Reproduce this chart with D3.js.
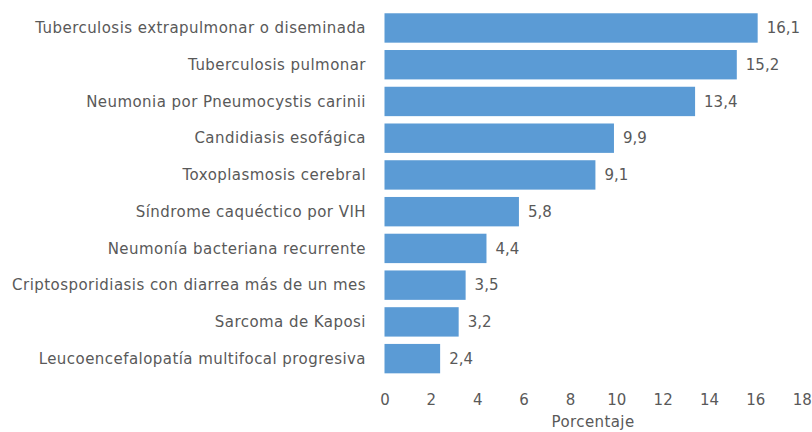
<!DOCTYPE html>
<html>
<head>
<meta charset="utf-8">
<script src="https://cdn.jsdelivr.net/npm/d3@7"></script>
<style>
  body { margin: 0; background: #fff; }
  text { font-family: "DejaVu Sans", sans-serif; fill: #595959; }
</style>
</head>
<body>
<svg id="chart"></svg>
<script>
const width = 812;
const height = 432;

// Data
const categories = [
    "Tuberculosis extrapulmonar o diseminada",
    "Tuberculosis pulmonar",
    "Neumonia por Pneumocystis carinii",
    "Candidiasis esofágica",
    "Toxoplasmosis cerebral",
    "Síndrome caquéctico por VIH",
    "Neumonía bacteriana recurrente",
    "Criptosporidiasis con diarrea más de un mes",
    "Sarcoma de Kaposi",
    "Leucoencefalopatía multifocal progresiva"
];
const values = [16.1, 15.2, 13.4, 9.9, 9.1, 5.8, 4.4, 3.5, 3.2, 2.4];
const xTicks = [0, 2, 4, 6, 8, 10, 12, 14, 16, 18];

const svg = d3.select("#chart")
    .attr("width", width)
    .attr("height", height);

const x = d3.scaleLinear()
    .domain([0, 18])
    .range([384.5, 801.7]);

const y = d3.scaleBand()
    .domain(categories)
    .range([9.6, 377])
    .paddingInner(0.2)
    .paddingOuter(0.1);

const fmt = v => d3.format(".1f")(v).replace(".", ",");

// bars
svg.selectAll("rect.bar")
    .data(values)
    .join("rect")
    .attr("class", "bar")
    .attr("x", x(0))
    .attr("y", (d, i) => y(categories[i]))
    .attr("width", d => x(d) - x(0))
    .attr("height", y.bandwidth())
    .attr("fill", "#5B9BD5");

// value labels
svg.selectAll("text.value")
    .data(values)
    .join("text")
    .attr("class", "value")
    .attr("x", d => x(d) + 9)
    .attr("y", (d, i) => y(categories[i]) + y.bandwidth() / 2)
    .attr("dy", "0.35em")
    .style("font-size", "15px")
    .text(d => fmt(d));

// category labels
svg.selectAll("text.cat")
    .data(categories)
    .join("text")
    .attr("class", "cat")
    .attr("x", 366)
    .attr("y", d => y(d) + y.bandwidth() / 2)
    .attr("dy", "0.35em")
    .attr("text-anchor", "end")
    .style("font-size", "15px")
    .style("letter-spacing", "0.45px")
    .text(d => d);

// x axis (labels only)
const xAxis = svg.append("g")
    .attr("transform", `translate(0, 394)`)
    .call(d3.axisBottom(x).tickValues(xTicks).tickSize(0).tickPadding(0));
xAxis.select(".domain").remove();
xAxis.selectAll("text")
    .style("font-size", "15px")
    .attr("font-family", null)
    .attr("fill", null);

svg.append("text")
    .attr("x", x(9))
    .attr("y", 427)
    .attr("text-anchor", "middle")
    .style("font-size", "15px")
    .style("letter-spacing", "0.4px")
    .text("Porcentaje");
</script>
</body>
</html>
